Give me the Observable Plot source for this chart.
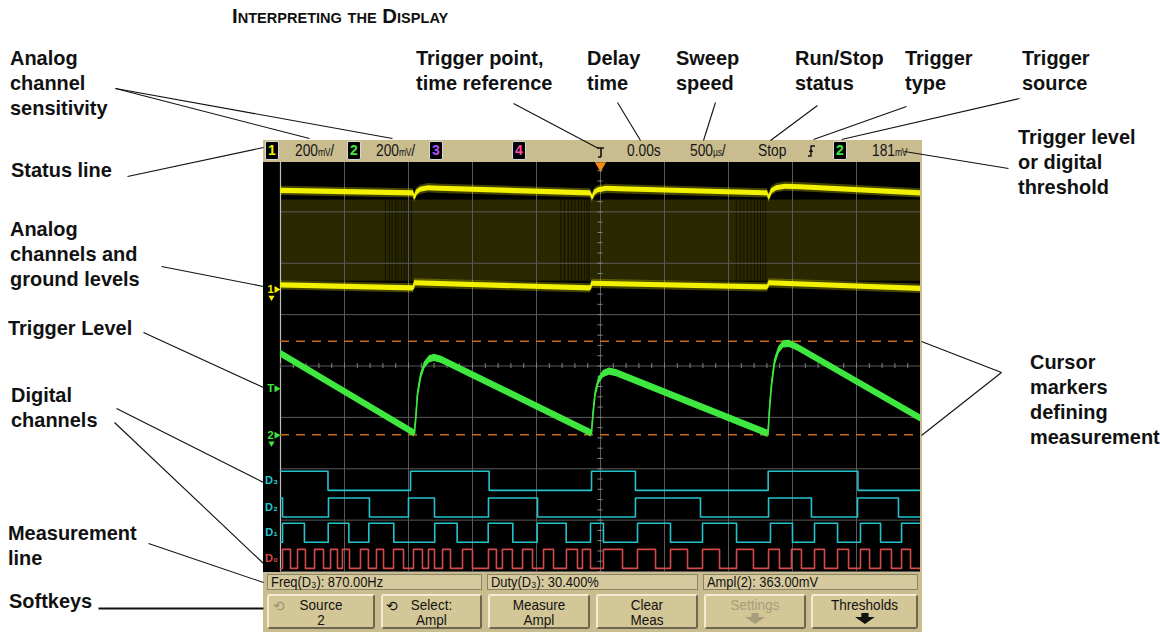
<!DOCTYPE html>
<html><head><meta charset="utf-8">
<script src="https://cdn.jsdelivr.net/npm/d3@7"></script>
<script src="https://cdn.jsdelivr.net/npm/@observablehq/plot@0.6"></script>
<style>
html,body{margin:0;padding:0;background:#fff;}
#page{position:relative;width:1160px;height:632px;overflow:hidden;background:#fff;
  font-family:"Liberation Sans",Arial,sans-serif;}
#page > *{position:absolute;}
.lbl{font-weight:bold;font-size:21px;line-height:25px;color:#111;white-space:nowrap;
  transform:scaleX(0.95);transform-origin:0 0;}
.stxt{font-size:16px;line-height:22px;color:#151515;white-space:nowrap;transform:scaleX(0.86);transform-origin:0 0;}
.cbox{width:12px;height:17px;background:#000;border:1px solid #d6d6d6;border-radius:2px;
  font-weight:bold;font-size:14px;line-height:17px;text-align:center;}
.meas{height:16px;background:#d5c99d;border:1px solid #8b8366;box-sizing:border-box;}
.meas span{position:absolute;left:3px;top:-1px;font-size:15px;line-height:16px;color:#111;white-space:nowrap;
  transform:scaleX(0.86);transform-origin:0 0;}
.key{height:35px;background:#d3c797;border-top:2px solid #f3ecd2;border-left:2px solid #f3ecd2;
  border-bottom:2px solid #6d6650;border-right:2px solid #6d6650;border-radius:3px;box-sizing:border-box;}
.key .t{position:absolute;left:0;right:0;top:1px;font-size:15px;line-height:15px;text-align:center;
  transform:scaleX(0.9);white-space:nowrap;}
.sm{font-size:10px;letter-spacing:-0.3px;}
</style></head>
<body><div id="page"></div>
<script>
// ================= DATA =================
// time axis in µs (500 µs/div), vertical in screen divisions
const timeTicksUs = [-2500,-2000,-1500,-1000,-500,0,500,1000,1500,2000,2500];
const divTicks = [-4,-3,-2,-1,0,1,2,3,4];

// Channel 1 (yellow) – upper and lower trace of the envelope
const ch1HighT = [-2500,-1461,-1453,-1438,-1406,-1344,-1250,-78,-63,-47,-16,47,156,1305,1316,1336,1375,1445,1563,2500];
const ch1HighV = [3.41,3.36,3.27,3.37,3.43,3.46,3.45,3.36,3.27,3.37,3.42,3.45,3.44,3.36,3.27,3.40,3.46,3.49,3.48,3.36];
const ch1LowT = [-2500,-1461,-1453,-78,-66,1305,1316,2500];
const ch1LowV = [1.57,1.51,1.61,1.51,1.60,1.53,1.61,1.50];
// dark streaks inside the channel 1 envelope (µs)
const ch1StreaksT = [-1680,-1650,-1628,-1600,-1580,-1552,-1530,-1512,-1494,-1476,
  -310,-282,-252,-226,-200,-172,-150,-126,-106,-90, 1060,1092,1120,1150,1176,1202,1226,1250,1270,1290];

// Channel 2 (green) sawtooth
const ch2T = [-2500,-1453,-1441,-1430,-1406,-1375,-1336,-1297,-1242,-70,-59,-43,-16,23,70,125,1309,1320,1336,1359,1391,1430,1477,1539,2500];
const ch2V = [0.24,-1.31,-0.96,-0.57,-0.22,0.01,0.13,0.16,0.12,-1.31,-0.96,-0.57,-0.30,-0.16,-0.11,-0.14,-1.32,-0.87,-0.38,0.05,0.30,0.42,0.43,0.36,-1.02];

// Digital channels: edge times (µs)
const digitalNames = ["D₃","D₂","D₁","D₀"];
const digitalInitial = [1,1,0,0];
const digitalLow = [-2.42,-2.94,-3.43,-3.94];
const digitalSwing = 0.37;
const d3Edges = [-2129,-1484,-870,-70,273,1310,2011];
const d2Edges = [-2484,-2125,-1805,-1500,-1297,-875,-492,273,781,1313,1648,2008,2328];
const d1Edges = [-2484,-2313,-2127,-1966,-1810,-1615,-1295,-1120,-877,-685,-495,-268,-78,23,289,547,797,1063,1328,1500,1672,1852,2031,2188,2352];
const d0Edges = [-2484,-2422,-2367,-2305,-2234,-2164,-2109,-2055,-2016,-1961,-1875,-1813,-1750,-1695,-1617,-1539,
  -1461,-1391,-1344,-1297,-1234,-1172,-1078,-1000,-875,-813,-766,-688,-609,-531,-445,-367,-266,-180,-141,-78,
  23,172,289,430,547,680,797,930,1063,1195,1313,1398,1492,1570,1672,1750,1852,1938,2031,2102,2188,2273,2352,2422];

// markers (div) and settings
const ch1Ground = 1.49;
const ch2Ground = -1.35;
const voltsPerDivMv = 200;
const triggerLevelMv = 181;
const cursorLevels = [0.48, -1.34];
const triggerTimeUs = 0;

// status line, measurement line, softkeys text
const statusChannels = ["1","2","3","4","2"];
const statusScale = ["200","200"];
const statusDelay = "0.00s";
const statusSweep = "500";
const statusRun = "Stop";
const statusTrigLevel = "181";
const measTexts = ["Freq(D₃): 870.00Hz","Duty(D₃): 30.400%","Ampl(2): 363.00mV"];
const softTop = ["Source","Select:","Measure","Clear","Settings","Thresholds"];
const softBottom = ["2","Ampl","Ampl","Meas","",""];

// annotation texts
const annTexts = [
  ["Analog","channel","sensitivity"],["Trigger point,","time reference"],["Delay","time"],["Sweep","speed"],
  ["Run/Stop","status"],["Trigger","type"],["Trigger","source"],["Status line"],["Trigger level","or digital","threshold"],
  ["Analog","channels and","ground levels"],["Trigger Level"],["Digital","channels"],
  ["Cursor","markers","defining","measurement"],["Measurement","line"],["Softkeys"]
];

// ================= LAYOUT =================
const W = 1160, H = 632;
const annPos = [[10,65],[416,65],[587,65],[676,65],[795,65],[905,65],[1022,65],[11,177],[1018,144],
  [10,236],[8,335],[11,402],[1030,369],[8,540],[9,608]];
const leaders = [
  [115,88,309,138],[115,88,392,138],[513,103,598,148],[617,102,640,140],[715,102,703,140],
  [817,105,770,140],[906,106,813,139],[1019,98,841,139],[1008,168,904,151],[127,176,263,147],
  [161,266,263,286],[143,332,263,387],[116,408,263,482],[114,422,263,563],
  [1001,372,921,341],[1001,372,921,435],[148,543,263,582]
];
const softLeft = [267,381,488,596,704,811];
const softWidth = [108,101,102,102,102,107];

const YEL = "#f2f200", GRN = "#3fe83f", CYN = "#22c4cc", RED = "#d24a4a", ORG = "#c96a16";
const FONT = "Liberation Sans, Arial, sans-serif";
const page = document.getElementById("page");
function add(html, css, cls) {
  const e = document.createElement("div");
  if (cls) e.className = cls;
  e.style.cssText = css; e.innerHTML = html; page.appendChild(e); return e;
}

// ---- scope body
add("", "left:263px;top:162px;width:657px;height:410px;background:#000;z-index:1;");
add("", "left:920px;top:162px;width:2px;height:410px;background:#c9bc8e;z-index:3;");

// ---- waveform plot
const T0 = timeTicksUs[0], T1 = timeTicksUs[timeTicksUs.length-1];
const ch1High = ch1HighT.map((t,i)=>({t, v:ch1HighV[i]}));
const ch1Low = ch1LowT.map((t,i)=>({t, v:ch1LowV[i]}));
const ch1Band = {t1: T0, t2: T1, lo: d3.max(ch1LowV) + 0.04, hi: d3.min(ch1HighV) - 0.04};
const ch2 = ch2T.map((t,i)=>({t, v:ch2V[i]}));
function digitalTrace(edges, initial, low) {
  let s = initial;
  const pts = [{t: T0, v: low + s*digitalSwing}];
  for (const e of edges) { s = 1 - s; pts.push({t:e, v: low + s*digitalSwing}); }
  pts.push({t: T1, v: low + s*digitalSwing});
  return pts;
}
const digEdges = [d3Edges,d2Edges,d1Edges,d0Edges];
const digTraces = digEdges.map((e,i)=>digitalTrace(e, digitalInitial[i], digitalLow[i]));
const digColors = [CYN,CYN,CYN,RED];
const minorT = d3.range(T0, T1+1, 100);
const minorV = d3.range(-4, 4.001, 0.2);
const markerRows = [
  {label:"1", y: ch1Ground, c: YEL, g:true},
  {label:"T", y: ch2Ground + triggerLevelMv/voltsPerDivMv, c: GRN, g:false},
  {label:"2", y: ch2Ground, c: GRN, g:true}
];
const digLabels = digitalNames.map((n,i)=>({label:n, y: digitalLow[i] + digitalSwing/2, c: digColors[i]}));
const yMin = divTicks[0], yMax = divTicks[divTicks.length-1];

const scope = Plot.plot({
  width: W, height: H, margin: 0,
  x: {domain:[T0, T1], range:[280,920], axis:null},
  y: {domain:[yMin, yMax], range:[571,160], axis:null},
  style: {background:"transparent", overflow:"visible"},
  marks: [
    Plot.rect([ch1Band], {x1:"t1", x2:"t2", y1:"lo", y2:"hi", fill:"#2a2800"}),
    Plot.ruleX(ch1StreaksT, {x:d=>d, y1:ch1Band.lo, y2:ch1Band.hi, stroke:"#000", strokeOpacity:0.6}),
    Plot.ruleX(timeTicksUs.slice(1), {x:d=>d, y1:yMin, y2:yMax, stroke:"#595959", strokeWidth:1}),
    Plot.ruleY(divTicks, {y:d=>d, x1:T0, x2:T1, stroke:"#595959", strokeWidth:1}),
    Plot.ruleX([T0], {x:d=>d, y1:yMin, y2:yMax + 0.1, stroke:"#bdbdbd", strokeWidth:1.2}),
    Plot.ruleX(minorT, {x:d=>d, y1:-0.05, y2:0.05, stroke:"#808080"}),
    Plot.ruleY(minorV, {y:d=>d, x1:-20, x2:20, stroke:"#808080"}),
    Plot.ruleY(cursorLevels, {y:d=>d, x1:T0, x2:T1, stroke:ORG, strokeWidth:1.5, strokeDasharray:"9,7"}),
    // channel 1
    Plot.areaY(ch1High, {x:"t", y1:d=>d.v-0.09, y2:d=>d.v+0.09, fill:YEL, fillOpacity:0.28}),
    Plot.areaY(ch1Low, {x:"t", y1:d=>d.v-0.09, y2:d=>d.v+0.09, fill:YEL, fillOpacity:0.28}),
    Plot.areaY(ch1High, {x:"t", y1:d=>d.v-0.05, y2:d=>d.v+0.05, fill:YEL}),
    Plot.areaY(ch1Low, {x:"t", y1:d=>d.v-0.05, y2:d=>d.v+0.05, fill:YEL}),
    Plot.line(ch1High, {x:"t", y:"v", stroke:YEL, strokeWidth:1.5}),
    Plot.line(ch1Low, {x:"t", y:"v", stroke:YEL, strokeWidth:1.5}),
    // channel 2
    Plot.areaY(ch2, {x:"t", y1:d=>d.v-0.07, y2:d=>d.v+0.07, fill:GRN}),
    Plot.line(ch2, {x:"t", y:"v", stroke:GRN, strokeWidth:1.6}),
    // digital channels
    ...digTraces.map((tr,i)=>Plot.line(tr, {x:"t", y:"v", curve:"step-after", stroke:digColors[i], strokeWidth:1.6})),
    // trigger point marker
    Plot.dot([triggerTimeUs], {x:d=>d, y:yMax, dy:5, symbol:"triangle", r:4.2, rotate:180, fill:"#f08c14", stroke:"none"}),
    // left markers
    Plot.text(markerRows, {x:T0, y:"y", text:"label", fill:"c", dx:-10, fontSize:11, fontWeight:"bold", fontFamily:FONT}),
    Plot.dot(markerRows, {x:T0, y:"y", fill:"c", dx:-4, symbol:"triangle", r:2.6, rotate:90, stroke:"none"}),
    Plot.dot(markerRows.filter(d=>d.g), {x:T0, y:"y", fill:"c", dx:-9, dy:8, symbol:"triangle", r:2.3, rotate:180, stroke:"none"}),
    Plot.text(digLabels, {x:T0, y:"y", text:"label", fill:"c", dx:-9, fontSize:11, fontWeight:"bold", fontFamily:FONT})
  ]
});
scope.style.position = "absolute"; scope.style.left = "0px"; scope.style.top = "0px"; scope.style.zIndex = 2;
page.appendChild(scope);

// ---- status line
add("", "left:263px;top:140px;width:659px;height:22px;background:#c9bc8e;z-index:3;");
const boxColors = {"1":YEL,"2":GRN,"3":"#b24cff","4":"#ff4aa8"};
const boxLeft = [265,347,429,512,833];
statusChannels.forEach((c,i)=>add(c, `left:${boxLeft[i]}px;top:141px;color:${boxColors[c]};z-index:4;`, "cbox"));
const unit = s => `<span class="sm">${s}</span>`;
add(statusScale[0] + unit("mV") + "/", "left:295px;top:140px;z-index:4;", "stxt");
add(statusScale[1] + unit("mV") + "/", "left:376px;top:140px;z-index:4;", "stxt");
add(statusDelay, "left:627px;top:140px;z-index:4;", "stxt");
add(statusSweep + unit("µs") + "/", "left:690px;top:140px;z-index:4;", "stxt");
add(statusRun, "left:758px;top:140px;z-index:4;", "stxt");
add(statusTrigLevel + unit("mV"), "left:872px;top:140px;z-index:4;", "stxt");
add(`<svg width="10" height="14"><path d="M1 3 H8 M5 3 V12 M2 12 H5" stroke="#111" stroke-width="1.6" fill="none"/></svg>`,
  "left:596px;top:145px;z-index:4;");
add(`<svg width="10" height="14"><path d="M1 12 H4 V2 H8 M2.5 8 L4 5.5 L5.5 8" stroke="#111" stroke-width="1.4" fill="none"/></svg>`,
  "left:807px;top:144px;z-index:4;");

// ---- measurement line & softkeys
add("", "left:263px;top:572px;width:659px;height:60px;background:#c9bc8e;z-index:3;");
const measLeft = [267,487,703], measWidth = [215,211,215];
measTexts.forEach((t,i)=>add(`<span>${t}</span>`, `left:${measLeft[i]}px;top:574px;width:${measWidth[i]}px;z-index:4;`, "meas"));
const arrow = col => `<svg width="26" height="12" style="display:block;margin:1px auto 0"><path d="M9 0 H17 V4 H24 L13 11 L2 4 H9 Z" fill="${col}"/></svg>`;
softTop.forEach((t,i)=>{
  const grey = i===4;
  const col = grey ? "#a59d7c" : "#111";
  const bottom = i>=4 ? arrow(col) : softBottom[i];
  add(`<div class="t" style="color:${col}">${t}<br>${bottom}</div>`,
    `left:${softLeft[i]}px;top:594px;width:${softWidth[i]}px;z-index:4;`, "key");
});
add("⟲", "left:273px;top:598px;font:14px 'DejaVu Sans';color:#9c9478;z-index:5;");
add("⟲", "left:386px;top:598px;font:14px 'DejaVu Sans';color:#111;z-index:5;");

// ---- title and annotations
add(`Interpreting the Display`,
  "left:232px;top:4px;font-weight:bold;font-size:21px;font-variant:small-caps;color:#111;z-index:5;white-space:nowrap;transform:scaleX(0.97);transform-origin:0 0;");
annTexts.forEach((lines,i)=>{
  const [x,y] = annPos[i];
  add(lines.join("<br>"), `left:${x}px;top:${y-19.8}px;z-index:5;`, "lbl");
});
const leaderRows = leaders.map(([x1,y1,x2,y2])=>({x1,y1,x2,y2}));
const ann = Plot.plot({
  width: W, height: H, margin: 0,
  x: {domain:[0,W], range:[0,W], axis:null},
  y: {domain:[0,H], range:[0,H], axis:null},
  style: {background:"transparent"},
  marks: [
    Plot.link(leaderRows, {x1:"x1", y1:"y1", x2:"x2", y2:"y2", stroke:"#111", strokeWidth:1.1}),
    Plot.link([{x1:98,y1:608,x2:263,y2:608}], {x1:"x1", y1:"y1", x2:"x2", y2:"y2", stroke:"#111", strokeWidth:2.2})
  ]
});
ann.style.position="absolute"; ann.style.left="0px"; ann.style.top="0px"; ann.style.zIndex = 6;
ann.style.pointerEvents="none";
page.appendChild(ann);
</script>
</body></html>
